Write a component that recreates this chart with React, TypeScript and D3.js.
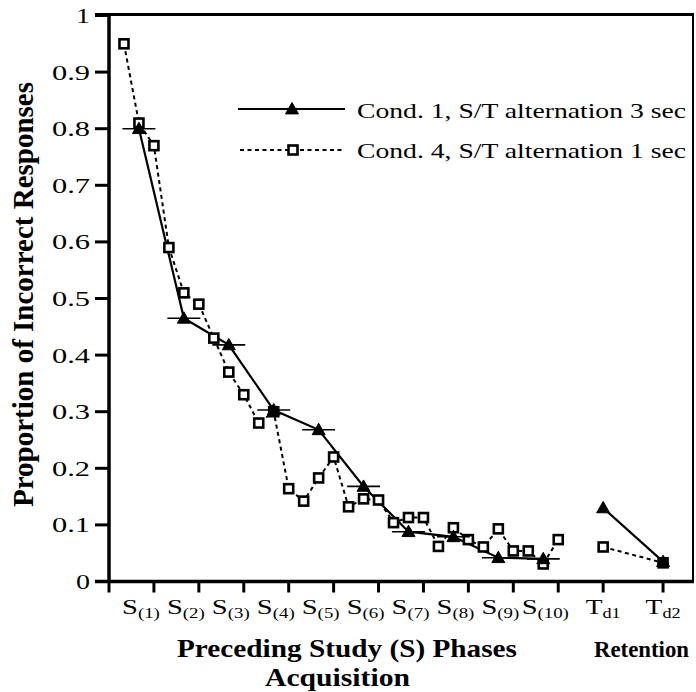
import React from "react";
import * as d3 from "d3";

// Proportion of incorrect responses per test trial (3 tests per study phase)
const cond4Acquisition = [
  0.95, 0.81, 0.77, 0.59, 0.51, 0.49, 0.43, 0.37, 0.33, 0.28,
  0.3, 0.164, 0.142, 0.183, 0.22, 0.132, 0.146, 0.144, 0.104, 0.113,
  0.113, 0.062, 0.095, 0.074, 0.061, 0.093, 0.054, 0.054, 0.031, 0.074,
];
const cond4Retention = [0.061, 0.033];

// One value per study phase (centre test of each phase)
const cond1Acquisition = [0.8, 0.465, 0.418, 0.303, 0.268, 0.168, 0.088, 0.079, 0.042, 0.04];
const cond1Retention = [0.13, 0.035];

const phaseLabels = ["1", "2", "3", "4", "5", "6", "7", "8", "9", "10"];
const retentionLabels = ["d1", "d2"];
const retentionPos = [32, 36];
const yTicks = [0, 0.1, 0.2, 0.3, 0.4, 0.5, 0.6, 0.7, 0.8, 0.9, 1];
const legendLabels = ["Cond. 1, S/T alternation 3 sec", "Cond. 4, S/T alternation 1 sec"];

const FONT = "'Liberation Serif', 'Times New Roman', Times, serif";

const W = 696;
const H = 692;
const left = 109;
const right = 693;
const top = 15.5;
const bottom = 581.5;

const x = d3.scaleLinear().domain([-1, 38]).range([left, right]);
const y = d3.scaleLinear().domain([0, 1]).range([bottom, top]);

const fmt = (v: number) => (v === 0 || v === 1 ? String(v) : v.toFixed(1));

function Triangle({ cx, cy }: { cx: number; cy: number }) {
  const s = 6.5;
  return (
    <path
      d={`M${cx},${cy - s} L${cx + s},${cy + s * 0.75} L${cx - s},${cy + s * 0.75} Z`}
      fill="#000"
      stroke="#000"
      strokeWidth={1}
    />
  );
}

function Square({ cx, cy }: { cx: number; cy: number }) {
  const s = 4.5;
  return (
    <rect x={cx - s} y={cy - s} width={2 * s} height={2 * s} fill="#fff" stroke="#000" strokeWidth={2.6} />
  );
}

export default function App() {
  const acqIdx4 = cond4Acquisition.map((_, i) => i);
  const acqIdx1 = cond1Acquisition.map((_, k) => 3 * k + 1);

  const line = d3
    .line<[number, number]>()
    .x((d) => x(d[0]))
    .y((d) => y(d[1]));

  const c4a: [number, number][] = cond4Acquisition.map((v, i) => [acqIdx4[i], v]);
  const c4r: [number, number][] = cond4Retention.map((v, i) => [retentionPos[i], v]);
  const c1a: [number, number][] = cond1Acquisition.map((v, k) => [acqIdx1[k], v]);
  const c1r: [number, number][] = cond1Retention.map((v, i) => [retentionPos[i], v]);

  const xTicks = [...phaseLabels.map((_, k) => 3 * k - 1), 29, ...retentionPos];

  return (
    <svg width={W} height={H} style={{ display: "block", position: "absolute", left: 0, top: 0 }} fontFamily={FONT}>
      <rect width={W} height={H} fill="#fff" />

      {/* frame */}
      <line x1={95} x2={right + 1} y1={top - 1} y2={top - 1} stroke="#000" strokeWidth={3} />
      <line x1={right} x2={right} y1={top - 1} y2={bottom} stroke="#000" strokeWidth={2} />
      <line x1={left} x2={left} y1={top - 2} y2={bottom + 1} stroke="#000" strokeWidth={3.5} />
      <line x1={95} x2={right + 1} y1={bottom} y2={bottom} stroke="#000" strokeWidth={3.5} />

      {/* y axis ticks and labels */}
      {yTicks.map((t) => (
        <g key={t}>
          <line x1={95} x2={left} y1={y(t)} y2={y(t)} stroke="#000" strokeWidth={3} />
          <text
            x={90}
            y={y(t) + 7.5}
            fontSize={22}
            textAnchor="end"
            textLength={t === 0 || t === 1 ? 14 : 38}
            lengthAdjust="spacingAndGlyphs"
          >
            {fmt(t)}
          </text>
        </g>
      ))}

      {/* x axis ticks */}
      {xTicks.map((t, i) => (
        <line key={i} x1={x(t)} x2={x(t)} y1={bottom} y2={bottom + 11} stroke="#000" strokeWidth={3} />
      ))}

      {/* x tick labels */}
      {phaseLabels.map((p, k) => (
        <g key={p} transform={`translate(${x(3 * k + 1) + 2},614) scale(1.3,1)`}>
          <text textAnchor="middle" fontSize={22}>
            S<tspan fontSize={14.5} dy={4}>({p})</tspan>
          </text>
        </g>
      ))}
      {retentionLabels.map((p, i) => (
        <g key={p} transform={`translate(${x(retentionPos[i])},614) scale(1.25,1)`}>
          <text textAnchor="middle" fontSize={22}>
            T<tspan fontSize={14.5} dy={4}>{p}</tspan>
          </text>
        </g>
      ))}

      {/* axis titles */}
      <text
        transform="translate(33,294.5) rotate(-90)"
        textAnchor="middle"
        fontSize={29}
        fontWeight="bold"
        textLength={425}
        lengthAdjust="spacingAndGlyphs"
      >
        Proportion of Incorrect Responses
      </text>
      <text x={177} y={657} fontSize={25} fontWeight="bold" textLength={340} lengthAdjust="spacingAndGlyphs">
        Preceding Study (S) Phases
      </text>
      <text x={594} y={657} fontSize={24} fontWeight="bold" textLength={95} lengthAdjust="spacingAndGlyphs">
        Retention
      </text>
      <text x={265} y={686} fontSize={25} fontWeight="bold" textLength={145} lengthAdjust="spacingAndGlyphs">
        Acquisition
      </text>

      {/* Cond. 4 dashed series */}
      <path d={line(c4a) ?? ""} fill="none" stroke="#000" strokeWidth={2} strokeDasharray="4,3.5" />
      <path d={line(c4r) ?? ""} fill="none" stroke="#000" strokeWidth={2} strokeDasharray="4,3.5" />

      {/* Cond. 1 solid series */}
      <path d={line(c1a) ?? ""} fill="none" stroke="#000" strokeWidth={2.2} />
      <path d={line(c1r) ?? ""} fill="none" stroke="#000" strokeWidth={2.2} />

      {c4a.concat(c4r).map((d, i) => (
        <Square key={`s${i}`} cx={x(d[0])} cy={y(d[1])} />
      ))}

      {/* phase span bars on Cond. 1 points */}
      {c1a.map((d, i) => (
        <line
          key={`b${i}`}
          x1={x(d[0] - 1.1)}
          x2={x(d[0] + 1.1)}
          y1={y(d[1])}
          y2={y(d[1])}
          stroke="#000"
          strokeWidth={1.6}
        />
      ))}
      {c1a.concat(c1r).map((d, i) => (
        <Triangle key={`t${i}`} cx={x(d[0])} cy={y(d[1])} />
      ))}

      {/* legend */}
      <line x1={238} x2={345} y1={109} y2={109} stroke="#000" strokeWidth={2} />
      <Triangle cx={292} cy={109} />
      <line x1={240} x2={345} y1={150} y2={150} stroke="#000" strokeWidth={2} strokeDasharray="4,3.5" />
      <Square cx={293} cy={150} />
      {legendLabels.map((l, i) => (
        <text
          key={l}
          x={357}
          y={118 + i * 40}
          fontSize={22}
          textLength={329}
          lengthAdjust="spacingAndGlyphs"
        >
          {l}
        </text>
      ))}
    </svg>
  );
}
